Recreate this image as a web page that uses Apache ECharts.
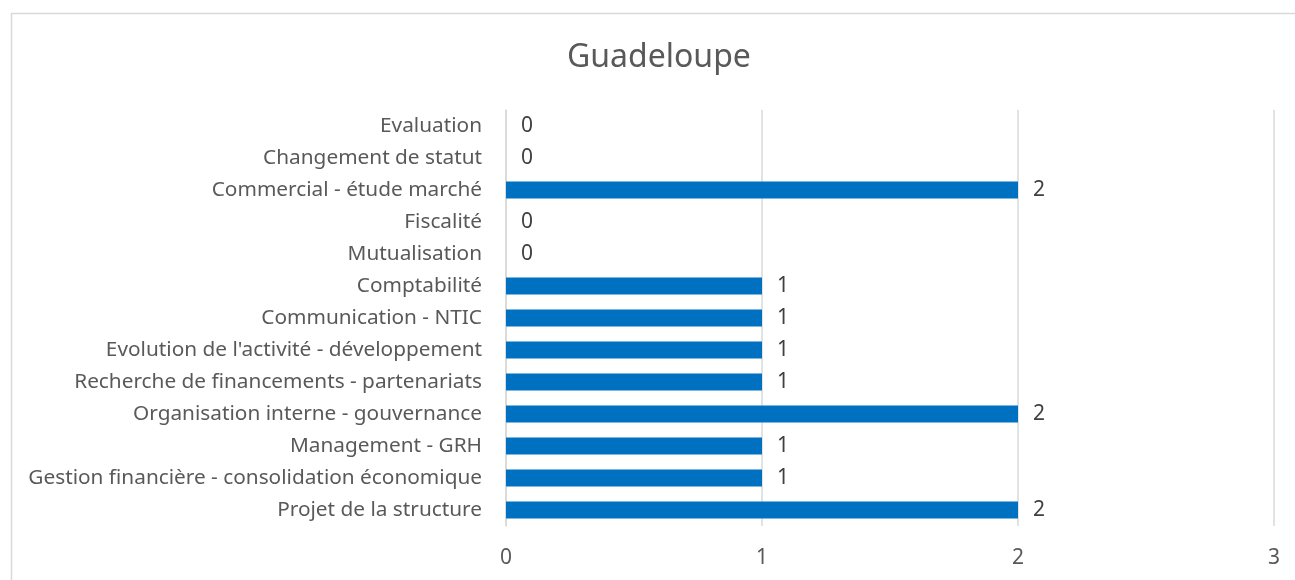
<!DOCTYPE html>
<html><head><meta charset="utf-8">
<script src="https://cdn.jsdelivr.net/npm/echarts@6/dist/echarts.min.js"></script>
<style>html,body{margin:0;padding:0;background:#fff}#c{width:1295px;height:580px}</style>
</head><body><div id="c"></div>
<script>
const categories = [
  "Projet de la structure",
  "Gestion financière - consolidation économique",
  "Management - GRH",
  "Organisation interne - gouvernance",
  "Recherche de financements - partenariats",
  "Evolution de l'activité - développement",
  "Communication - NTIC",
  "Comptabilité",
  "Mutualisation",
  "Fiscalité",
  "Commercial - étude marché",
  "Changement de statut",
  "Evaluation"
];
const values = [2, 1, 1, 2, 1, 1, 1, 1, 0, 0, 2, 0, 0];
const xTicks = [0, 1, 2, 3];

const FONT = "Noto Sans";
const chart = echarts.init(document.getElementById('c'));
chart.setOption({
  animation: false,
  title: {
    text: "Guadeloupe", left: 562, top: 37,
    textStyle: {fontFamily: FONT, fontSize: 32, fontWeight: 'normal', color: '#595959'}
  },
  graphic: [{
    type: 'rect', left: 9, top: 11,
    shape: {x: 0, y: 0, width: 1400, height: 700},
    style: {fill: 'none', stroke: '#d9d9d9', lineWidth: 1.5}
  }],
  grid: {left: 506, right: 21, top: 110, bottom: 54},
  xAxis: {
    type: 'value', min: 0, max: 3, interval: 1,
    axisLine: {show: false}, axisTick: {show: false},
    splitLine: {lineStyle: {color: '#d9d9d9', width: 1.5}},
    axisLabel: {fontFamily: FONT, fontSize: 21, color: '#595959', margin: 22,
      formatter: v => xTicks.includes(v) ? String(v) : ''}
  },
  yAxis: {
    type: 'category', data: categories,
    axisLine: {lineStyle: {color: '#d9d9d9', width: 1.5}},
    axisTick: {length: 8, lineStyle: {color: '#d9d9d9', width: 1.5}},
    axisLabel: {fontFamily: FONT, fontSize: 20.8, color: '#595959', margin: 24,
      padding: [5, 0, 0, 0]}
  },
  series: [{
    type: 'bar', data: values, barWidth: 17,
    itemStyle: {color: '#0070C0'},
    label: {show: true, position: 'right', distance: 15,
      fontFamily: FONT, fontSize: 21, color: '#404040', padding: [5, 0, 0, 0]}
  }]
});
</script></body></html>
